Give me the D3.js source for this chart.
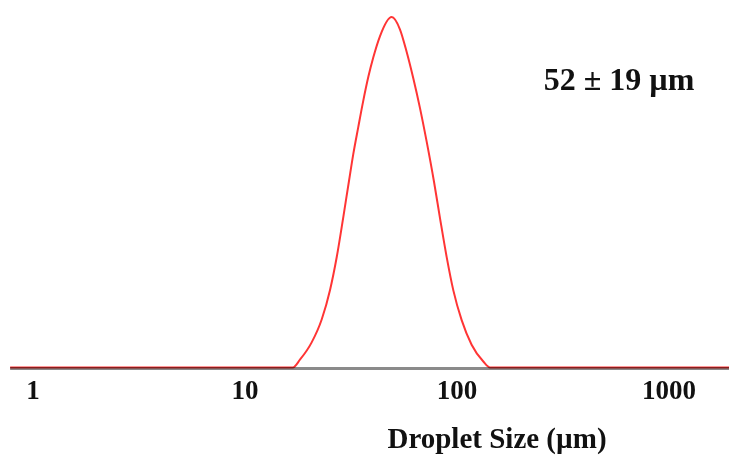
<!DOCTYPE html>
<html>
<head>
<meta charset="utf-8">
<script src="https://cdn.jsdelivr.net/npm/d3@7"></script>
<style>
  body { margin: 0; background: #fff; }
  svg text { font-family: "Liberation Serif", "Times New Roman", serif; font-weight: bold; fill: #111; }
</style>
</head>
<body>
<div id="chart"></div>
<script>
const width = 729;
const height = 455;

// droplet size (µm) and relative volume (peak = 100)
const sizes = [0.78, 5, 10, 16.8, 18.2, 20.6, 23.0, 25.2, 27.1, 29.1, 30.9, 32.4, 34.2, 36.1, 38.2, 40.3, 43.3, 49.2,
    53.8, 57.9, 62.2, 66.9, 71.9, 77.9, 83.2, 89.4, 96.1, 105.2, 117.2, 133.1, 143.2, 300, 1000, 1920];
const volumes = [0, 0, 0, 0, 2.3, 7.1, 13.7, 22.2, 31.6, 43, 53, 60.8, 68.5, 76, 83, 88.5, 94.5, 100,
    96.5, 90, 82.5, 74, 64.5, 53, 42.5, 31.5, 22, 13.5, 6.5, 1.7, 0, 0, 0, 0];
const tickValues = [1, 10, 100, 1000];
const tickLabels = ["1", "10", "100", "1000"];
const axisTitle = "Droplet Size (µm)";
const annotation = "52 ± 19 µm";

const svg = d3.select("#chart")
    .append("svg")
    .attr("width", width)
    .attr("height", height);

const x = d3.scaleLog()
    .domain([1, 1000])
    .range([33, 669]);

const y = d3.scaleLinear()
    .domain([0, 100])
    .range([367.5, 17]);

// baseline (gray axis)
svg.append("line")
    .attr("x1", x(sizes[0]))
    .attr("x2", x(sizes[sizes.length - 1]))
    .attr("y1", 368.5)
    .attr("y2", 368.5)
    .attr("stroke", "#8a8a8a")
    .attr("stroke-width", 3);

// distribution curve
const data = sizes.map((s, i) => ({ size: s, vol: volumes[i] }));
const line = d3.line()
    .x(d => x(d.size))
    .y(d => y(d.vol))
    .curve(d3.curveMonotoneX);

svg.append("path")
    .datum(data)
    .attr("d", line)
    .attr("fill", "none")
    .attr("stroke", "#ff3535")
    .attr("stroke-width", 2)
    .style("mix-blend-mode", "multiply");

// tick labels
svg.append("g")
    .selectAll("text")
    .data(tickValues)
    .join("text")
    .attr("x", d => x(d))
    .attr("y", 399)
    .attr("text-anchor", "middle")
    .style("font-size", "27px")
    .text((d, i) => tickLabels[i]);

svg.append("text")
    .attr("x", 497)
    .attr("y", 448)
    .attr("text-anchor", "middle")
    .style("font-size", "29px")
    .text(axisTitle);

svg.append("text")
    .attr("x", 619)
    .attr("y", 90)
    .attr("text-anchor", "middle")
    .style("font-size", "32px")
    .text(annotation);
</script>
</body>
</html>
